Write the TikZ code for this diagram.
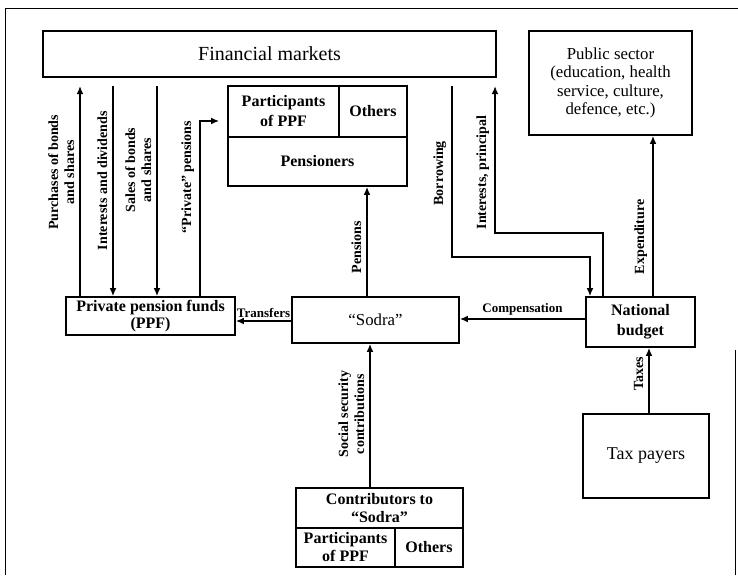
\documentclass[tikz,border=0pt]{standalone}
\usepackage{fontspec}
\setmainfont{Liberation Serif}
\usetikzlibrary{arrows.meta}

\tikzset{
  box/.style={draw, line width=0.8pt, inner sep=1pt, align=center, font=\bfseries\fontsize{8}{10}\selectfont},
  plainbox/.style={box, font=\fontsize{8.4}{9.2}\selectfont},
  flow/.style={line width=0.8pt, ->},
  vlbl/.style={rotate=90, anchor=south, align=center, inner sep=2.5pt, font=\bfseries\fontsize{7}{8}\selectfont},
  hlbl/.style={above, inner sep=1.5pt, font=\bfseries\fontsize{6.5}{7}\selectfont},
}

\begin{document}
\begin{tikzpicture}[x=0.5pt, y=-0.5pt, >={Latex[length=4pt,width=3.4pt]}]
  \useasboundingbox (0,0) rectangle (738,575);
  % frame
  \draw[line width=0.5pt] (5,575) -- (5,8) -- (738,8);
  \draw[line width=0.5pt] (735,350) -- (735,575);

  % boxes
  \node[plainbox, minimum width=226.5pt, minimum height=23pt, outer ysep=4.5pt, font=\fontsize{10}{12}\selectfont] (fm) at (269.5,54) {Financial markets};
  \node[plainbox, minimum width=81.5pt, minimum height=52pt] (ps) at (610.5,83) {Public sector\\(education, health\\service, culture,\\defence, etc.)};
  \node[box, minimum width=55.5pt, minimum height=25.5pt] (pp) at (283.5,111.5) {Participants\\of PPF};
  \node[box, minimum width=34pt, minimum height=25.5pt] (poth) at (373,111.5) {Others};
  \node[box, minimum width=89.5pt, minimum height=24.5pt] (pen) at (317.5,161.5) {Pensioners};
  \node[box, minimum width=84.5pt, minimum height=19pt, font=\bfseries\fontsize{8}{8.5}\selectfont] (ppf) at (150.5,316) {Private pension funds\\(PPF)};
  \node[plainbox, minimum width=83.5pt, minimum height=23pt] (sodra) at (375.5,320) {“Sodra”};
  \node[box, minimum width=54.5pt, minimum height=25pt] (nb) at (640.5,322) {National\\budget};
  \node[plainbox, minimum width=63pt, minimum height=42pt, font=\fontsize{9}{10}\selectfont] (tp) at (646,456) {Tax payers};
  \node[box, minimum width=83.5pt, minimum height=20pt, font=\bfseries\fontsize{8}{9}\selectfont] (cs) at (379.5,508) {Contributors to\\“Sodra”};
  \node[box, minimum width=49.5pt, minimum height=19.5pt, font=\bfseries\fontsize{8}{9}\selectfont] (cpp) at (345.5,547.5) {Participants\\of PPF};
  \node[box, minimum width=34pt, minimum height=19.5pt] (coth) at (429,547.5) {Others};

  % flows
  \draw[flow] (80,0 |- ppf.north) -- (80,0 |- fm.south) node[vlbl, pos=0.59] {Purchases of bonds\\and shares};
  \draw[flow] (113,0 |- fm.south) -- (113,0 |- ppf.north) node[vlbl, pos=0.45] {Interests and dividends};
  \draw[flow] (157,0 |- fm.south) -- (157,0 |- ppf.north) node[vlbl, pos=0.40] {Sales of bonds\\and shares};
  \coordinate (pvt) at (200,121);
  \draw[flow, shorten >=4pt] (200,0 |- ppf.north) -- (pvt) node[vlbl, pos=0.68] {“Private” pensions} -- (pvt -| pp.west);
  \draw[flow] (367,0 |- sodra.north) -- (367,0 |- pen.south) node[vlbl, pos=0.45] {Pensions};
  \draw[flow] (sodra.west |- 0,321) -- (ppf.east |- 0,321) node[hlbl, midway] {Transfers};
  \draw[flow] (nb.west |- 0,319) -- (sodra.east |- 0,319) node[hlbl, midway] {Compensation};
  \draw[flow] (370,0 |- cs.north) -- (370,0 |- sodra.south) node[vlbl, pos=0.51] {Social security\\contributions};
  \draw[flow] (649,0 |- tp.north) -- (649,0 |- nb.south) node[vlbl, pos=0.6] {Taxes};
  \draw[flow] (653,0 |- nb.north) -- (653,0 |- ps.south) node[vlbl, pos=0.37] {Expenditure};
  \draw[flow] (452,0 |- fm.south) -- (452,257) node[vlbl, pos=0.51] {Borrowing} -| (590,0 |- nb.north);
  \draw[flow] (603,0 |- nb.north) |- (495,233) -- (495,0 |- fm.south) node[vlbl, pos=0.41] {Interests, principal};
\end{tikzpicture}
\end{document}
